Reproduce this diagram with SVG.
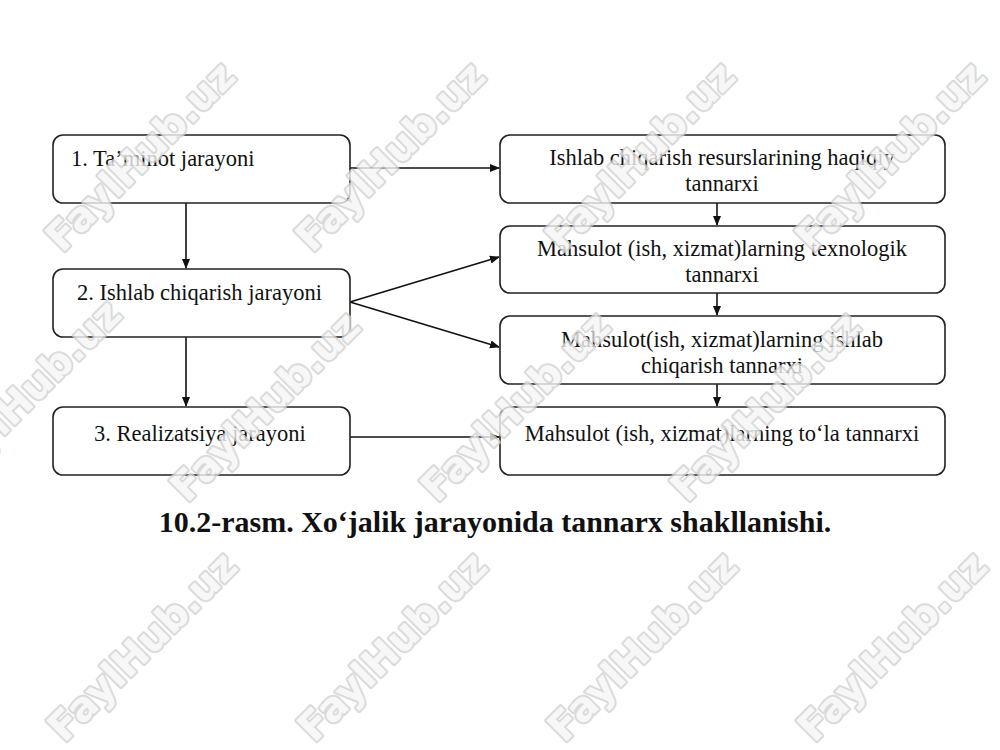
<svg xmlns="http://www.w3.org/2000/svg" width="1000" height="750" viewBox="0 0 1000 750">
<style>
.box{fill:#fff;stroke:#222;stroke-width:1.6}
.t{font-family:"Liberation Serif","DejaVu Serif","Noto Serif",serif;font-size:22.5px;fill:#111}
.c{text-anchor:middle}
.cap{font-family:"Liberation Serif","DejaVu Serif","Noto Serif",serif;font-size:30px;font-weight:bold;fill:#111;text-anchor:middle}
.ln{stroke:#111;stroke-width:1.6;fill:none;marker-end:url(#ah)}
.wm{font-family:"DejaVu Sans","Liberation Sans",sans-serif;font-size:40px;font-weight:bold;fill:#f6f6f6;stroke:#d2d2d2;stroke-width:4;paint-order:stroke;stroke-linejoin:round;text-anchor:middle;opacity:0.8}
</style>
<defs>
<marker id="ah" markerWidth="10" markerHeight="10" refX="9" refY="5" orient="auto" markerUnits="userSpaceOnUse">
<path d="M0,1 L10,5 L0,9 Z" fill="#111"/>
</marker>
</defs>
<rect width="1000" height="750" fill="#fff"/>
<g id="connectors">
<line class="ln" x1="350" y1="168" x2="499" y2="168"/>
<line class="ln" x1="186" y1="203" x2="186" y2="268"/>
<line class="ln" x1="186" y1="337" x2="186" y2="406"/>
<line class="ln" x1="350" y1="302" x2="499" y2="257"/>
<line class="ln" x1="350" y1="302" x2="499" y2="347"/>
<line class="ln" x1="350" y1="437" x2="499" y2="437"/>
<line class="ln" x1="717" y1="203" x2="717" y2="225"/>
<line class="ln" x1="717" y1="293" x2="717" y2="315"/>
<line class="ln" x1="717" y1="384" x2="717" y2="406"/>
</g>
<g id="n1"><rect class="box" x="53" y="135" width="297" height="68" rx="10"/><text class="t" x="71" y="166">1. Ta’minot jarayoni</text></g>
<g id="n2"><rect class="box" x="53" y="269" width="297" height="68" rx="10"/><text class="t" x="77" y="300">2. Ishlab chiqarish jarayoni</text></g>
<g id="n3"><rect class="box" x="53" y="407" width="297" height="68" rx="10"/><text class="t" x="94" y="441">3. Realizatsiya jarayoni</text></g>
<g id="r1"><rect class="box" x="500" y="135" width="445" height="68" rx="10"/><text class="t c" x="722" y="165">Ishlab chiqarish resurslarining haqiqiy</text><text class="t c" x="722" y="191">tannarxi</text></g>
<g id="r2"><rect class="box" x="500" y="226" width="445" height="67" rx="10"/><text class="t c" x="722" y="256">Mahsulot (ish, xizmat)larning texnologik</text><text class="t c" x="722" y="282">tannarxi</text></g>
<g id="r3"><rect class="box" x="500" y="316" width="445" height="68" rx="10"/><text class="t c" x="722" y="347">Mahsulot(ish, xizmat)larning ishlab</text><text class="t c" x="722" y="373">chiqarish tannarxi</text></g>
<g id="r4"><rect class="box" x="500" y="407" width="445" height="68" rx="10"/><text class="t c" x="722" y="441">Mahsulot (ish, xizmat)larning to‘la tannarxi</text></g>
<text class="cap" x="495" y="532">10.2-rasm. Xo‘jalik jarayonida tannarx shakllanishi.</text>
<g id="watermarks">
<text class="wm" transform="translate(150,166) rotate(-45)">FaylHub.uz</text>
<text class="wm" transform="translate(400,166) rotate(-45)">FaylHub.uz</text>
<text class="wm" transform="translate(650,166) rotate(-45)">FaylHub.uz</text>
<text class="wm" transform="translate(900,166) rotate(-45)">FaylHub.uz</text>
<text class="wm" transform="translate(36,404) rotate(-45)">FaylHub.uz</text>
<text class="wm" transform="translate(275,416) rotate(-45)">FaylHub.uz</text>
<text class="wm" transform="translate(525,416) rotate(-45)">FaylHub.uz</text>
<text class="wm" transform="translate(775,416) rotate(-45)">FaylHub.uz</text>
<text class="wm" transform="translate(152,656) rotate(-45)">FaylHub.uz</text>
<text class="wm" transform="translate(402,656) rotate(-45)">FaylHub.uz</text>
<text class="wm" transform="translate(652,656) rotate(-45)">FaylHub.uz</text>
<text class="wm" transform="translate(902,656) rotate(-45)">FaylHub.uz</text>
</g>
</svg>
